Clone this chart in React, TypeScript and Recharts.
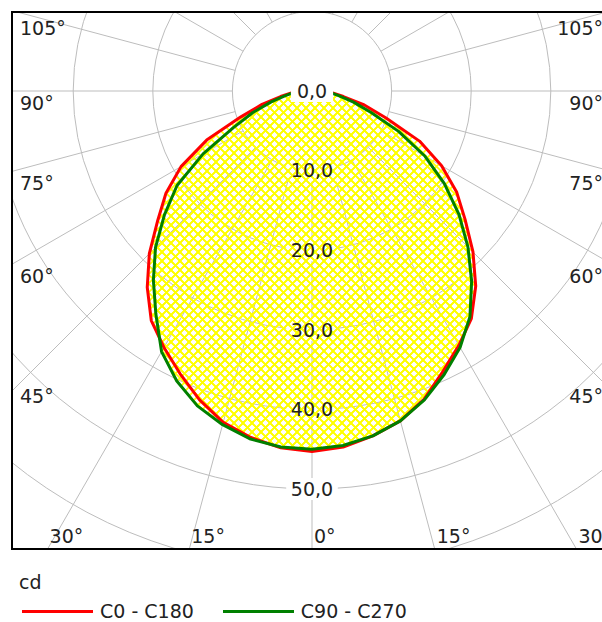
import { PolarAngleAxis, PolarGrid, PolarRadiusAxis, Radar, RadarChart } from "recharts";

// photometric angle, negative = left half (C180 / C270), positive = right half (C0 / C90)
const ANGLES = [
  -90, -85, -80, -75, -70, -65, -60, -55, -50, -45, -40, -35, -30, -25, -20, -15, -10, -5,
  0, 5, 10, 15, 20, 25, 30, 35, 40, 45, 50, 55, 60, 65, 70, 75, 80, 85, 90,
];
const C0_C180 = [
  1.6, 2.6, 4.0, 6.5, 9.5, 14.6, 19.0, 22.4, 25.3, 28.9, 32.2, 35.2, 37.2, 39.2, 41.3, 43.1, 44.2, 45.0,
  45.3, 44.9, 44.0, 42.9, 41.2, 38.9, 36.9, 34.9, 32.0, 28.6, 25.1, 22.2, 18.8, 14.9, 9.9, 6.8, 4.0, 2.6, 1.6,
];
const C90_C270 = [
  1.5, 2.3, 3.4, 5.3, 7.9, 10.9, 15.8, 20.7, 24.2, 27.8, 31.0, 34.2, 37.8, 40.2, 42.1, 43.4, 44.4, 44.9,
  45.0, 44.7, 44.0, 42.9, 41.3, 39.3, 37.2, 34.6, 31.2, 27.7, 24.1, 20.3, 16.4, 12.0, 7.9, 5.4, 3.4, 2.3, 1.5,
];

const LABEL_ANGLES = [-105, -90, -75, -60, -45, -30, -15, 0, 15, 30, 45, 60, 75, 90, 105];
const SPOKE_ANGLES = [
  -180, -165, -150, -135, -120, -105, -90, -75, -60, -45, -30, -15,
  0, 15, 30, 45, 60, 75, 90, 105, 120, 135, 150, 165, 180,
];
const RING_TICKS = [10, 20, 30, 40, 50, 60, 70];
const VALUE_TICKS = [0, 10, 20, 30, 40, 50];
const UNIT = "cd";

const SERIES = [
  { key: "c0", name: "C0 - C180", color: "#ff0000" },
  { key: "c90", name: "C90 - C270", color: "#008000" },
];

const data = ANGLES.map((a, i) => ({ a, c0: C0_C180[i], c90: C90_C270[i] }));

const CX = 312;
const CY = 91;
const PX_PER_CD = 7.96;
const MAX_CD = 70;
const FRAME = { left: 12, top: 12, right: 612, bottom: 549 };
const W = 640;
const H = 560;
const FONT = "'DejaVu Sans', Verdana, sans-serif";
const FS = 19;
const TEXT = "#222";

const fmt = (v: number) => v.toFixed(1).replace(".", ",");
const textW = (s: string) => s.length * FS * 0.6;

const LabelBg = (props: any) => {
  const v = props.payload.value;
  if (v > 50) return null;
  const w = textW(fmt(v)) + 6;
  return <rect x={props.x - w / 2} y={props.y - 11} width={w} height={22} fill="#fff" />;
};

const ValueLabel = (props: any) => {
  const v = props.payload.value;
  const s = fmt(v);
  const w = textW(s) + 8;
  return (
    <g>
      {v === 0 && <rect x={props.x - w / 2} y={props.y - 11} width={w} height={22} fill="#fff" />}
      <text x={props.x} y={props.y + FS * 0.36} textAnchor="middle" fontSize={FS} fontFamily={FONT} fill={TEXT}>
        {s}
      </text>
    </g>
  );
};

const AngleLabel = (props: any) => {
  const a = props.payload.value;
  const rad = (a * Math.PI) / 180;
  const s = Math.sin(rad);
  const c = Math.cos(rad);
  let x: number;
  let y: number;
  let anchor: "start" | "end" = "start";
  if (Math.abs(a) <= 30) {
    x = CX + ((FRAME.bottom - CY) * s) / c + 2;
    y = FRAME.bottom - 13;
  } else {
    const edge = a < 0 ? FRAME.left : FRAME.right;
    const yInt = CY + (Math.abs(edge - CX) * c) / Math.abs(s);
    y = Math.max(yInt + (Math.abs(a) >= 60 ? 12 : 5), FRAME.top + 16);
    x = a < 0 ? FRAME.left + 8 : FRAME.right - 9;
    anchor = a < 0 ? "start" : "end";
  }
  return (
    <text x={x} y={y + FS * 0.36} textAnchor={anchor} fontSize={FS} fontFamily={FONT} fill={TEXT}>
      {Math.abs(a)}°
    </text>
  );
};

const chartProps = {
  width: W,
  height: H,
  data,
  cx: CX,
  cy: CY,
  outerRadius: MAX_CD * PX_PER_CD,
  startAngle: -270,
  endAngle: 90,
  margin: { top: 0, right: 0, bottom: 0, left: 0 },
};

export default function App() {
  return (
    <div
      style={{
        position: "absolute",
        left: 0,
        top: 0,
        width: 602,
        height: 622,
        overflow: "hidden",
        background: "#fff",
        fontFamily: FONT,
        color: TEXT,
      }}
    >
      <svg width={0} height={0} style={{ position: "absolute" }}>
        <defs>
          <pattern id="hatch" width={9} height={9} patternUnits="userSpaceOnUse">
            <path d="M-2,-2 L11,11 M11,-2 L-2,11" stroke="#ffff00" strokeWidth={1.6} />
          </pattern>
        </defs>
      </svg>

      <div
        style={{
          position: "absolute",
          left: FRAME.left,
          top: FRAME.top,
          width: FRAME.right - FRAME.left,
          height: FRAME.bottom - FRAME.top,
          overflow: "hidden",
        }}
      >
        {/* grid: spokes start at the 10 cd ring */}
        <div style={{ position: "absolute", left: -FRAME.left, top: -FRAME.top }}>
          <RadarChart {...chartProps} innerRadius={10 * PX_PER_CD}>
            <PolarGrid gridType="circle" stroke="#bdbdbd" strokeWidth={1} />
            <PolarAngleAxis
              dataKey="a"
              type="number"
              domain={[-180, 180]}
              ticks={SPOKE_ANGLES}
              tick={false}
              tickLine={false}
              axisLine={false}
            />
            <PolarRadiusAxis
              angle={-90}
              type="number"
              domain={[10, 70]}
              ticks={RING_TICKS}
              allowDataOverflow
              axisLine={false}
              tickLine={false}
              tick={LabelBg}
            />
          </RadarChart>
        </div>

        <div style={{ position: "absolute", left: -FRAME.left, top: -FRAME.top }}>
          <RadarChart {...chartProps} innerRadius={0}>
            {SERIES.map((s) => (
              <Radar
                key={s.key + "-fill"}
                dataKey={s.key}
                stroke="none"
                fill="url(#hatch)"
                fillOpacity={1}
                isAnimationActive={false}
              />
            ))}
            {SERIES.map((s) => (
              <Radar
                key={s.key}
                name={s.name}
                dataKey={s.key}
                stroke={s.color}
                strokeWidth={3}
                strokeLinejoin="round"
                fill="none"
                isAnimationActive={false}
              />
            ))}
            <PolarAngleAxis
              dataKey="a"
              type="number"
              domain={[-180, 180]}
              ticks={LABEL_ANGLES}
              tick={AngleLabel}
              tickLine={false}
              axisLine={false}
            />
            <PolarRadiusAxis
              angle={-90}
              type="number"
              domain={[0, MAX_CD]}
              ticks={VALUE_TICKS}
              allowDataOverflow
              axisLine={false}
              tickLine={false}
              tick={ValueLabel}
            />
          </RadarChart>
        </div>
      </div>

      <svg width={602} height={622} style={{ position: "absolute", left: 0, top: 0, pointerEvents: "none" }}>
        <rect
          x={FRAME.left}
          y={FRAME.top}
          width={FRAME.right - FRAME.left}
          height={FRAME.bottom - FRAME.top}
          fill="none"
          stroke="#000"
          strokeWidth={2}
        />
      </svg>

      <div style={{ position: "absolute", left: 19, top: 570, fontSize: FS, lineHeight: "24px" }}>{UNIT}</div>
      <div
        style={{
          position: "absolute",
          left: 22,
          top: 599,
          display: "flex",
          alignItems: "center",
          fontSize: FS,
          lineHeight: "24px",
        }}
      >
        {SERIES.map((s) => (
          <div key={s.key} style={{ display: "flex", alignItems: "center", marginRight: 29 }}>
            <span style={{ display: "inline-block", width: 71, height: 3, background: s.color, marginRight: 7 }} />
            <span>{s.name}</span>
          </div>
        ))}
      </div>
    </div>
  );
}
